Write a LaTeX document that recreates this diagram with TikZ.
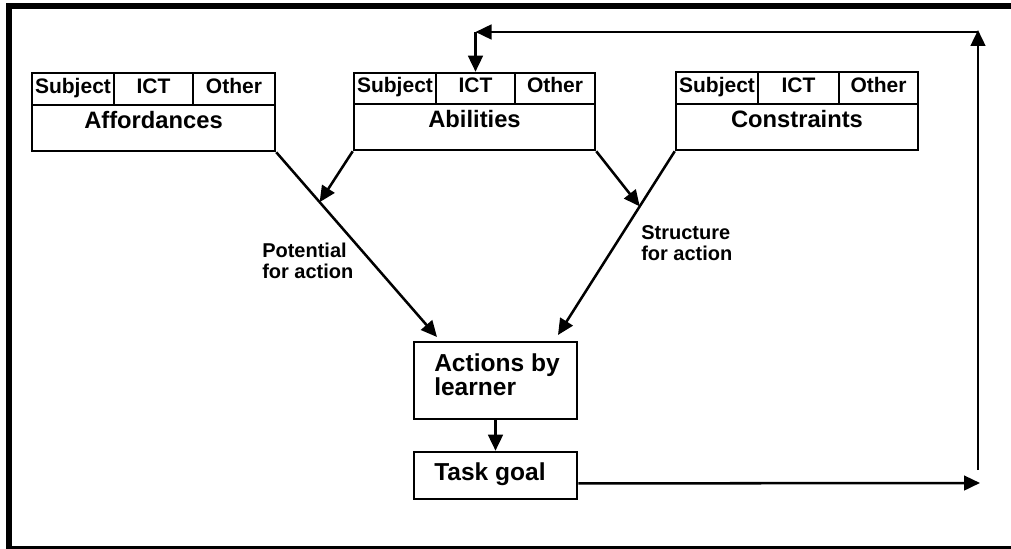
\documentclass[tikz,border=0pt]{standalone}
\usepackage{fontspec}
\setmainfont{Liberation Sans}
\usetikzlibrary{arrows.meta,calc}
\begin{document}
\begin{tikzpicture}[x=0.75pt,y=-0.75pt,
  cell/.style 2 args={draw, line width=1.9pt, inner sep=0pt,
    minimum width={#1*0.75pt}, minimum height={#2*0.75pt},
    text height=11pt, text depth=4.5pt,
    font=\bfseries\fontsize{15.75}{18}\selectfont},
  mainlbl/.style={inner sep=0pt, font=\bfseries\fontsize{17.8}{20}\selectfont},
  boxtext/.style={inner sep=0pt, anchor=west, align=left, font=\bfseries\fontsize{18.4}{16.5}\selectfont},
  edgelbl/.style={inner sep=0pt, anchor=west, align=left, font=\bfseries\fontsize{15}{15.5}\selectfont},
  arr/.style={line width=1.9pt, -{Triangle[length=12pt,width=11pt]}}
]
\useasboundingbox (0,0) rectangle (1011,549);
\fill[white] (0,0) rectangle (1011,549);
% outer frame (open at the right)
\draw[line width=4.5pt] (1040,5.8) -- (9,5.8) -- (9,548.5) -- (1040,548.5);

% Affordances
\node[cell={82}{32}] (affS) at (73,89) {Subject};
\node[cell={79}{32}] (affI) at (153.5,89) {ICT};
\node[cell={82}{32}] (affO) at (234,89) {Other};
\node[cell={243}{46}] (aff) at (153.5,128) {};
\node[mainlbl] (affL) at (153.5,120) {Affordances};

% Abilities
\node[cell={82}{31}] (ablS) at (395,88.5) {Subject};
\node[cell={79}{31}] (ablI) at (475.5,88.5) {ICT};
\node[cell={80}{31}] (ablO) at (555,88.5) {Other};
\node[cell={241}{46}] (abl) at (474.5,127) {};
\node[mainlbl] (ablL) at (474.5,119) {Abilities};

% Constraints
\node[cell={82}{32}] (conS) at (717,88) {Subject};
\node[cell={81}{32}] (conI) at (798.5,88) {ICT};
\node[cell={79}{32}] (conO) at (878.5,88) {Other};
\node[cell={242}{46}] (con) at (797,127) {};
\node[mainlbl] (conL) at (797,119) {Constraints};

% Actions and task goal
\node[cell={163}{77}] (act) at (495.5,380.5) {};
\node[boxtext] (actT) at (434,375) {Actions by\\learner};
\node[cell={163}{47}] (task) at (495.5,475.5) {};
\node[boxtext] (taskT) at (434,474) {Task goal};

% edge labels
\node[edgelbl] (pot) at (262,261) {Potential\\for action};
\node[edgelbl] (str) at (641,243) {Structure\\for action};

% coordinates
\coordinate (t1) at (437,337);
\coordinate (t2) at (558,335);
\coordinate (m1) at ($(aff.south east)!0.27!(t1)$);
\coordinate (m2) at ($(con.south west)!0.30!(t2)$);
\coordinate (te) at ($(task.south east)!0.34!(task.north east)$);
\coordinate (r1) at (980,483);
\coordinate (c1) at (978,470);
\coordinate (c2) at (978,30);
\coordinate (c2b) at (978,32);
\coordinate (c3) at (475.5,32);

% connectors
\draw[arr] (aff.south east) -- (t1);
\draw[arr] (abl.south west) -- (m1);
\draw[arr] (con.south west) -- (t2);
\draw[arr] (abl.south east) -- (m2);
\draw[arr] (act.south) -- (task.north);
\draw[arr] (te) -- (r1);
\draw[arr] (c1) -- (c2);
\draw[arr] (c2b) -- (c3);
\draw[arr] (c3) -- (ablI.north);
\end{tikzpicture}
\end{document}
